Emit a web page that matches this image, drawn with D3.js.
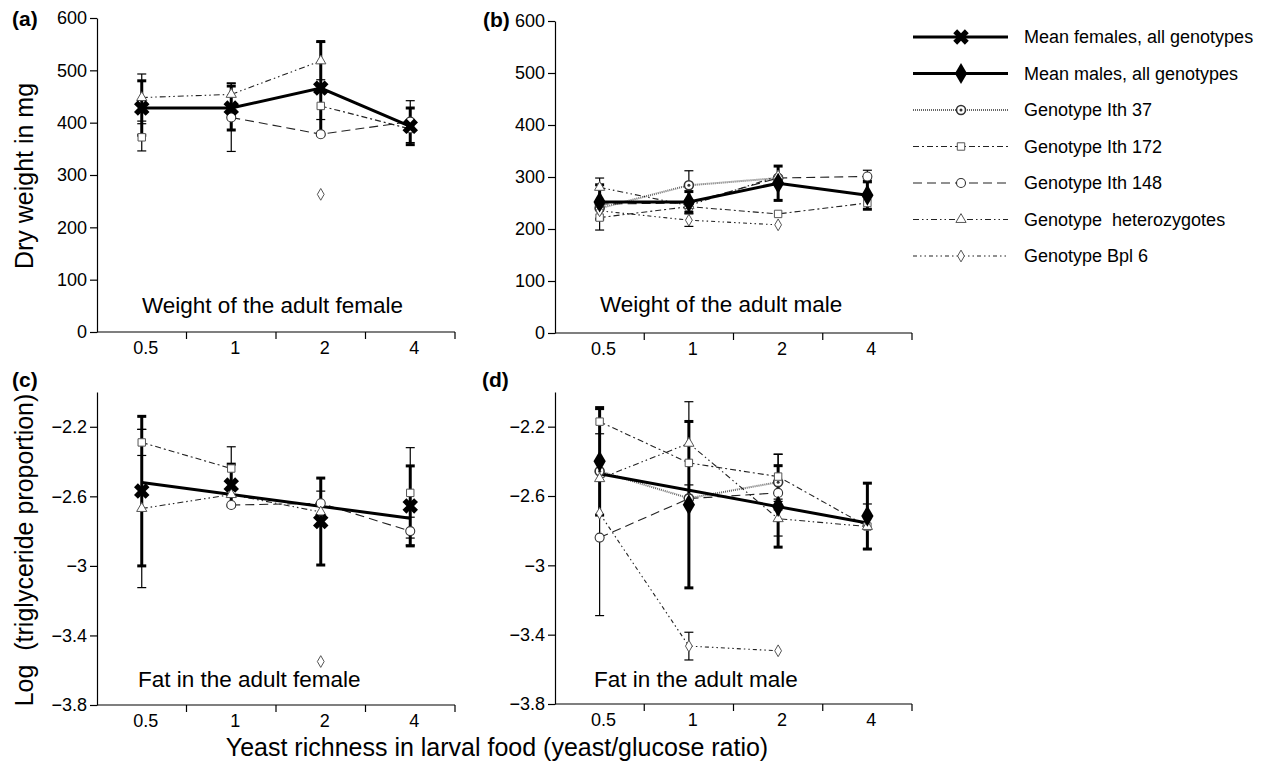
<!DOCTYPE html>
<html>
<head>
<meta charset="utf-8">
<script src="https://cdn.jsdelivr.net/npm/d3@7"></script>
<style>
  body { margin: 0; background: #fff; }
  svg text { font-family: "Liberation Sans", Arial, Helvetica, sans-serif; fill: #000; }
</style>
</head>
<body>
<svg id="chart" width="1263" height="766"></svg>
<script>
var xCats = ["0.5", "1", "2", "4"];
var weightTicks = [0, 100, 200, 300, 400, 500, 600];
var fatTicks = [-3.8, -3.4, -3, -2.6, -2.2];

// (a) weight of adult female
var aMeanF = [428, 428, 466, 393];
var aMeanFErr = [52, 42, 89, 35];
var aIth172 = [372, null, 432, 388];
var aIth172Err = [26, null, 26, null];
var aIth148 = [null, 410, 378, 402];
var aIth148Err = [null, 65, null, 40];
var aHet = [448, 454, 518, null];
var aHetErr = [45, 22, 36, null];
var aBpl6 = [null, null, 263, null];

// (b) weight of adult male
var bMeanM = [252, 252, 288, 265];
var bMeanMErr = [33, 20, 33, 27];
var bIth37 = [240, 284, 298, null];
var bIth37Err = [null, 28, null, null];
var bIth172 = [222, 243, 229, 250];
var bIth148 = [248, 250, 298, 301];
var bIth148Err = [50, null, null, 12];
var bHet = [280, 245, 302, null];
var bBpl6 = [235, 217, 208, null];
var bBpl6Err = [null, 12, null, null];

// (c) fat in adult female
var cMeanF = [-2.57, -2.535, -2.745, -2.655];
var cMeanFErr = [0.43, 0.12, 0.25, 0.23];
var cFit = [-2.52, -2.726];          // fitted line, at 0.5 and at 4
var cIth172 = [-2.29, -2.44, null, -2.58];
var cIth172Err = [0.075, 0.125, null, 0.26];
var cIth148 = [null, -2.65, -2.64, -2.80];
var cIth148Err = [null, null, 0.07, 0.08];
var cHet = [-2.67, -2.59, -2.69, null];
var cHetErr = [0.455, null, null, null];
var cBpl6 = [null, null, -3.55, null];

// (d) fat in adult male
var dMeanM = [-2.40, -2.65, -2.66, -2.716];
var dMeanMErr = [0.31, 0.48, 0.235, 0.19];
var dFit = [-2.472, -2.756];
var dIth37 = [-2.457, -2.613, -2.52, null];
var dIth37Err = [null, null, 0.16, null];
var dIth172 = [-2.171, -2.409, -2.488, -2.776];
var dIth172Err = [0.07, null, 0.13, 0.13];
var dIth148 = [-2.84, -2.615, -2.582, null];
var dIth148Err = [0.45, null, null, null];
var dHet = [-2.50, -2.296, -2.731, -2.776];
var dHetErr = [null, 0.24, 0.1, null];
var dBpl6 = [-2.70, -3.466, -3.493, null];
var dBpl6Err = [null, 0.08, null, null];

var legendNames = ["Mean females, all genotypes", "Mean males, all genotypes", "Genotype Ith 37",
                   "Genotype Ith 172", "Genotype Ith 148", "Genotype  heterozygotes", "Genotype Bpl 6"];

// line/marker look of each series
var styles = {
  meanF:  {marker: "x",        dash: null,                 width: 3,   color: "#000"},
  meanM:  {marker: "diamondF", dash: null,                 width: 3,   color: "#000"},
  ith37:  {marker: "dotCircle",dash: "1,1",                width: 2,   color: "#666"},
  ith172: {marker: "square",   dash: "6,3,2,3",            width: 1.1, color: "#222"},
  ith148: {marker: "circle",   dash: "9,5",                width: 1.1, color: "#222"},
  het:    {marker: "triangle", dash: "6,3,1.5,3,1.5,3",    width: 1.1, color: "#222"},
  bpl6:   {marker: "diamond",  dash: "4,3,1.5,3,1.5,3",    width: 1.1, color: "#222"}
};
var legendKeys = ["meanF", "meanM", "ith37", "ith172", "ith148", "het", "bpl6"];

var svg = d3.select("#chart");

function drawMarker(g, kind, cx, cy) {
  if (kind == "x") {
    g.append("path").attr("d", d3.symbol().type(d3.symbolCross).size(150)())
      .attr("transform", "translate(" + cx + "," + cy + ") rotate(45)")
      .attr("fill", "#000");
  } else if (kind == "diamondF") {
    g.append("path").attr("d", d3.symbol().type(d3.symbolDiamond).size(130)())
      .attr("transform", "translate(" + cx + "," + cy + ")").attr("fill", "#000");
  } else if (kind == "dotCircle") {
    g.append("circle").attr("cx", cx).attr("cy", cy).attr("r", 4.5)
      .attr("fill", "#fff").attr("stroke", "#333").attr("stroke-width", 1.6);
    g.append("circle").attr("cx", cx).attr("cy", cy).attr("r", 1.5).attr("fill", "#333");
  } else if (kind == "circle") {
    g.append("circle").attr("cx", cx).attr("cy", cy).attr("r", 4.5)
      .attr("fill", "#fff").attr("stroke", "#333").attr("stroke-width", 1.1);
  } else {
    var t = {square: d3.symbolSquare, triangle: d3.symbolTriangle, diamond: d3.symbolDiamond}[kind];
    var s = {square: 55, triangle: 45, diamond: 40}[kind];
    g.append("path").attr("d", d3.symbol().type(t).size(s)())
      .attr("transform", "translate(" + cx + "," + cy + ")")
      .attr("fill", "#fff").attr("stroke", "#555").attr("stroke-width", 1);
  }
}

function createPanel(p) {
  var x = d3.scaleBand().domain(xCats).range([p.x0, p.x1]);
  var y = d3.scaleLinear().domain(p.domain).range([p.yBottom, p.yTop]);
  var cx = function(c) { return x(c) + x.bandwidth() / 2; };
  var g = svg.append("g");

  // y axis
  g.append("g")
    .attr("transform", "translate(" + p.x0 + ",0)")
    .call(d3.axisLeft(y).tickValues(p.ticks).tickSize(7).tickSizeOuter(0).tickPadding(3)
      .tickFormat(d3.format("~g")))
    .call(function(a) {
      a.selectAll("text").style("font-size", "18px").attr("fill", "#000");
      a.selectAll("line,path").attr("stroke", "#000").attr("stroke-width", 1.2);
    });

  // x axis: line, boundary ticks, labels at band centres
  g.append("line").attr("x1", p.x0).attr("x2", p.x1)
    .attr("y1", p.yBottom).attr("y2", p.yBottom)
    .attr("stroke", "#000").attr("stroke-width", 1.2);
  var bounds = xCats.slice(1).map(function(c) { return x(c); }).concat([x.range()[1]]);
  g.selectAll(".xt").data(bounds).enter().append("line")
    .attr("x1", d => d).attr("x2", d => d)
    .attr("y1", p.yBottom).attr("y2", p.yBottom + 7)
    .attr("stroke", "#000").attr("stroke-width", 1.2);
  g.selectAll(".xl").data(xCats).enter().append("text")
    .attr("x", d => cx(d) + 4).attr("y", p.yBottom + 22)
    .attr("text-anchor", "middle").style("font-size", "18px")
    .text(d => d);

  var lineGen = d3.line()
    .defined(d => d.v != null)
    .x(d => cx(d.c)).y(d => y(d.v));

  // genotype lines first, then mean
  p.series.forEach(function(s) {
    var st = styles[s.key];
    var pts = xCats.map(function(c, i) { return {c: c, v: s.values[i]}; });
    if (!s.noLine) {
      g.append("path").datum(pts)
        .attr("d", lineGen)
        .attr("fill", "none")
        .attr("stroke", st.color)
        .attr("stroke-width", st.width)
        .attr("stroke-dasharray", st.dash);
    }
  });

  if (p.fit) {
    g.append("line")
      .attr("x1", cx(xCats[0])).attr("y1", y(p.fit[0]))
      .attr("x2", cx(xCats[xCats.length - 1])).attr("y2", y(p.fit[1]))
      .attr("stroke", "#000").attr("stroke-width", 3);
  }

  // error bars
  p.series.forEach(function(s) {
    if (!s.err) return;
    var thick = s.key == "meanF" || s.key == "meanM";
    var sw = thick ? 3 : 1.2;
    s.err.forEach(function(e, i) {
      if (e == null || s.values[i] == null) return;
      var xx = cx(xCats[i]);
      var top = y(s.values[i] + e), bot = y(s.values[i] - e);
      g.append("line").attr("x1", xx).attr("x2", xx).attr("y1", top).attr("y2", bot)
        .attr("stroke", "#000").attr("stroke-width", sw);
      [top, bot].forEach(function(yy) {
        g.append("line").attr("x1", xx - 4.5).attr("x2", xx + 4.5).attr("y1", yy).attr("y2", yy)
          .attr("stroke", "#000").attr("stroke-width", sw);
      });
    });
  });

  // markers
  p.series.forEach(function(s) {
    s.values.forEach(function(v, i) {
      if (v == null) return;
      drawMarker(g, styles[s.key].marker, cx(xCats[i]), y(v));
    });
  });

  g.append("text").attr("x", p.titleX).attr("y", p.titleY)
    .style("font-size", "22.5px").text(p.title);
  g.append("text").attr("x", p.tagX).attr("y", p.tagY)
    .style("font-size", "21px").style("font-weight", "bold").text(p.tag);
}

createPanel({
  tag: "(a)", tagX: 12, tagY: 26,
  x0: 97, x1: 455, yTop: 18, yBottom: 332, domain: [0, 600], ticks: weightTicks,
  title: "Weight of the adult female", titleX: 142, titleY: 313,
  series: [
    {key: "ith172", values: aIth172, err: aIth172Err},
    {key: "ith148", values: aIth148, err: aIth148Err},
    {key: "het", values: aHet, err: aHetErr},
    {key: "bpl6", values: aBpl6},
    {key: "meanF", values: aMeanF, err: aMeanFErr}
  ]
});

createPanel({
  tag: "(b)", tagX: 483, tagY: 27,
  x0: 555, x1: 912, yTop: 21, yBottom: 333, domain: [0, 600], ticks: weightTicks,
  title: "Weight of the adult male", titleX: 600, titleY: 312,
  series: [
    {key: "ith37", values: bIth37, err: bIth37Err},
    {key: "ith172", values: bIth172},
    {key: "ith148", values: bIth148, err: bIth148Err},
    {key: "het", values: bHet},
    {key: "bpl6", values: bBpl6, err: bBpl6Err},
    {key: "meanM", values: bMeanM, err: bMeanMErr}
  ]
});

createPanel({
  tag: "(c)", tagX: 12, tagY: 387,
  x0: 97, x1: 455, yTop: 392, yBottom: 705, domain: [-3.8, -2.0], ticks: fatTicks,
  title: "Fat in the adult female", titleX: 138, titleY: 687,
  fit: cFit,
  series: [
    {key: "ith172", values: cIth172, err: cIth172Err},
    {key: "ith148", values: cIth148, err: cIth148Err},
    {key: "het", values: cHet, err: cHetErr},
    {key: "bpl6", values: cBpl6},
    {key: "meanF", values: cMeanF, err: cMeanFErr, noLine: true}
  ]
});

createPanel({
  tag: "(d)", tagX: 482, tagY: 387,
  x0: 555, x1: 912, yTop: 392, yBottom: 704, domain: [-3.8, -2.0], ticks: fatTicks,
  title: "Fat in the adult male", titleX: 594, titleY: 687,
  fit: dFit,
  series: [
    {key: "ith37", values: dIth37, err: dIth37Err},
    {key: "ith172", values: dIth172, err: dIth172Err},
    {key: "ith148", values: dIth148, err: dIth148Err},
    {key: "het", values: dHet, err: dHetErr},
    {key: "bpl6", values: dBpl6, err: dBpl6Err},
    {key: "meanM", values: dMeanM, err: dMeanMErr, noLine: true}
  ]
});

// axis titles
svg.append("text").attr("transform", "translate(33,176) rotate(-90)")
  .attr("text-anchor", "middle").style("font-size", "25px").text("Dry weight in mg");
svg.append("text").attr("transform", "translate(33,550) rotate(-90)")
  .attr("text-anchor", "middle").style("font-size", "25px").style("white-space", "pre")
  .text("Log  (triglyceride proportion)");
svg.append("text").attr("x", 497).attr("y", 756)
  .attr("text-anchor", "middle").style("font-size", "25px")
  .text("Yeast richness in larval food (yeast/glucose ratio)");

// legend
var legend = svg.append("g");
legendKeys.forEach(function(k, i) {
  var st = styles[k];
  var ly = 37 + i * 36.5;
  legend.append("line").attr("x1", 913).attr("x2", 1008).attr("y1", ly).attr("y2", ly)
    .attr("stroke", st.color).attr("stroke-width", st.width)
    .attr("stroke-dasharray", st.dash);
  drawMarker(legend, st.marker, 961, ly);
  legend.append("text").attr("x", 1024).attr("y", ly).attr("dy", "0.35em")
    .style("font-size", "18px").style("white-space", "pre").text(legendNames[i]);
});
</script>
</body>
</html>
